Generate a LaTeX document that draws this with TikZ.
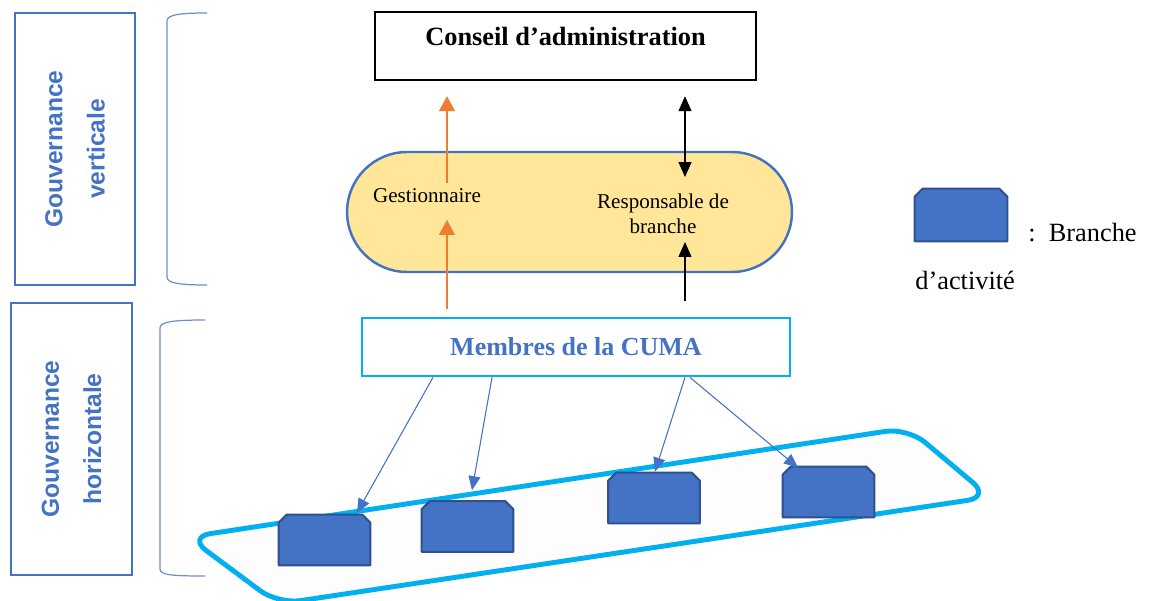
\documentclass[tikz,border=0pt]{standalone}
\usepackage{fontspec}
\setmainfont{Liberation Serif}
\setsansfont{Liberation Sans}
\usepackage{tikz}
\usepackage{xcolor}
\usetikzlibrary{arrows.meta,positioning,calc}
\definecolor{govblue}{HTML}{4472C4}
\definecolor{deepblue}{HTML}{2F528F}
\definecolor{cyanline}{HTML}{00B0F0}
\definecolor{orangeln}{HTML}{ED7D31}
\definecolor{pillfill}{HTML}{FFE699}
\definecolor{brackblue}{HTML}{6E8FCE}
\definecolor{framefill}{HTML}{FDFDFD}
\tikzset{
  govbox/.style={draw=govblue,line width=1.2pt,rotate=90,align=center,
                 minimum width=5.44cm,minimum height=2.4cm,inner sep=0pt,
                 font=\sffamily\bfseries\fontsize{14}{24}\selectfont,text=govblue},
  bracket/.style={draw=brackblue,line width=0.7pt},
  topbox/.style={draw=black,line width=1.4pt,minimum width=7.62cm,minimum height=1.36cm,
                 text height=0.38cm,text depth=0.38cm,
                 font=\bfseries\fontsize{15}{17}\selectfont,inner sep=0pt},
  pillbox/.style={draw=govblue,fill=pillfill,line width=1.4pt,rounded corners=1.2cm,
                  minimum width=8.9cm,minimum height=2.4cm},
  roletext/.style={align=center,font=\fontsize{12}{14.2}\selectfont,inner sep=1pt},
  memberbox/.style={draw=cyanline,line width=1.6pt,minimum width=8.56cm,minimum height=1.16cm,
                    font=\bfseries\fontsize{14.8}{17}\selectfont,text=govblue,inner sep=0pt},
  branchnode/.style={minimum width=1.82cm,minimum height=1.0cm,inner sep=0pt},
  branchline/.style={draw=deepblue,fill=govblue,line width=1.2pt,line join=round},
  legtext/.style={font=\fontsize{15}{18}\selectfont,inner sep=0pt},
  orangearr/.style={-{Triangle[length=0.3cm,width=0.32cm]},draw=orangeln,fill=orangeln,line width=0.7pt},
  blackarr/.style={-{Triangle[length=0.3cm,width=0.26cm]},draw=black,line width=0.8pt},
  bluearr/.style={-{Triangle[length=0.28cm,width=0.24cm]},draw=govblue,fill=govblue,line width=0.6pt}
}
\newcommand\branchat[3][]{%
  \node[branchnode,#1] (#2) at (#3) {};
  \filldraw[branchline] (#2.south west) -- ($(#2.north west)+(0,8)$) -- ($(#2.north west)+(8,0)$)
    -- ($(#2.north east)+(-8,0)$) -- ($(#2.north east)+(0,8)$) -- (#2.south east) -- cycle;}

\begin{document}
\begin{tikzpicture}[x=0.02cm,y=-0.02cm]
  \useasboundingbox (0,0) rectangle (1154,601);

  \node[govbox] (vgov) at (75,149) {Gouvernance\\verticale};
  \node[govbox,minimum height=2.42cm] (hgov) at (71.5,439) {Gouvernance\\horizontale};
  \draw[bracket] (207,13) .. controls (178,13) and (167,15) .. (167,21) -- (167,277)
                 .. controls (167,283) and (178,285) .. (207,285);
  \draw[bracket] (205,320) .. controls (172,320) and (160,322) .. (160,328) -- (160,569)
                 .. controls (160,575) and (172,576) .. (205,576);

  \node[topbox] (conseil) at (565.5,46) {Conseil d’administration};
  \node[pillbox] (pill) at (569.5,212) {};
  \node[roletext] (gestion) at (427,196) {Gestionnaire};
  \node[roletext] (resp) at (663,214) {Responsable de\\branche};
  \node[memberbox] (membres) at (576,347) {Membres de la CUMA};

  \coordinate (gup) at (447,183);
  \coordinate (gdown) at (447,220);
  \coordinate (rup) at (685,177);
  \coordinate (rdown) at (685,242);
  \draw[orangearr,shorten >=0.3cm] (gup) -- (gup |- conseil.south);
  \draw[orangearr,shorten <=0.16cm] (membres.north -| gdown) -- (gdown);
  \draw[blackarr,{Triangle[length=0.3cm,width=0.26cm]}-{Triangle[length=0.3cm,width=0.26cm]},
        shorten >=0.3cm] (rup) -- (rup |- conseil.south);
  \draw[blackarr,shorten <=0.32cm] (membres.north -| rdown) -- (rdown);

  \draw[cyanline,line width=2.8pt,fill=framefill,rounded corners=0.45cm]
    (548,482.5) -- (908,428) -- (990,497) -- (278,604) -- (188,537) -- cycle;

  \branchat{br1}{324.5,540}
  \branchat{br2}{467.5,526.5}
  \branchat{br3}{654,498}
  \branchat{br4}{828.5,492}

  \draw[bluearr] ($(membres.south)+(-143,0)$) -- ($(br1.north)+(32.5,-2)$);
  \draw[bluearr] ($(membres.south)+(-84,0)$) -- ($(br2.north)+(4.5,-11)$);
  \draw[bluearr] ($(membres.south)+(109,0)$) -- ($(br3.north)+(1,-1)$);
  \draw[bluearr] ($(membres.south)+(114,0)$) -- ($(br4.north)+(-30.5,1)$);

  \branchat[minimum width=1.84cm,minimum height=1.04cm]{legbox}{961,215}
  \node[legtext,anchor=base west] (legA) at (1028,242) {:\ \ Branche};
  \node[legtext,anchor=base west] (legB) at (915,290) {d’activité};
\end{tikzpicture}
\end{document}
